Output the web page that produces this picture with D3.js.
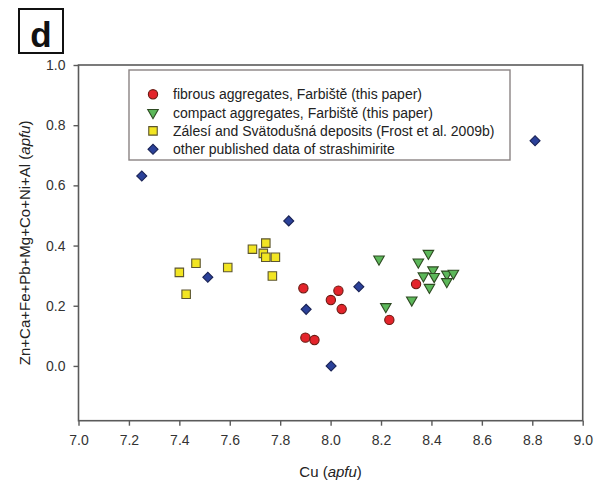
<!DOCTYPE html>
<html><head><meta charset="utf-8">
<script src="https://cdn.jsdelivr.net/npm/d3@7"></script>
<style>body{margin:0;background:#fff}svg{display:block}</style>
</head><body>
<script>
// ---- data ----
const fibrousCu = [7.892, 7.900, 7.936, 8.001, 8.031, 8.044, 8.233, 8.339];
const fibrousSum = [0.258, 0.094, 0.086, 0.219, 0.250, 0.189, 0.153, 0.272];
const compactCu = [8.192, 8.388, 8.348, 8.406, 8.368, 8.411, 8.461, 8.487, 8.461, 8.392, 8.322, 8.219];
const compactSum = [0.355, 0.374, 0.345, 0.319, 0.299, 0.297, 0.305, 0.308, 0.280, 0.261, 0.219, 0.197];
const zalesiCu = [7.400, 7.427, 7.466, 7.592, 7.690, 7.743, 7.733, 7.743, 7.781, 7.769];
const zalesiSum = [0.311, 0.238, 0.341, 0.327, 0.388, 0.408, 0.374, 0.361, 0.361, 0.299];
const otherCu = [7.251, 7.513, 7.834, 7.903, 8.112, 8.811, 8.002];
const otherSum = [0.631, 0.295, 0.482, 0.188, 0.263, 0.748, 0.0];
const xTicks = [7.0, 7.2, 7.4, 7.6, 7.8, 8.0, 8.2, 8.4, 8.6, 8.8, 9.0];
const yTicks = [0.0, 0.2, 0.4, 0.6, 0.8, 1.0];
const legendLabels = [
  "fibrous aggregates, Farbiště (this paper)",
  "compact aggregates, Farbiště (this paper)",
  "Zálesí and Svätodušná deposits (Frost et al. 2009b)",
  "other published data of strashimirite"
];

const W = 603, H = 482;
const L = 78.5, R = 582.7, T = 65, B = 420.7;
const FONT = "'Liberation Sans', Arial, Helvetica, sans-serif";
const svg = d3.select("body").append("svg").attr("width", W).attr("height", H)
  .style("font-family", FONT);

const x = d3.scaleLinear().domain([7.0, 9.0]).range([L, R]);
const y = d3.scaleLinear().domain([-0.182, 1.0]).range([B, T]);

// frame
svg.append("rect").attr("x", L).attr("y", T).attr("width", R - L).attr("height", B - T)
  .attr("fill", "none").attr("stroke", "#5a5a5a").attr("stroke-width", 1.6);

// axes
const xAxis = d3.axisBottom(x).tickValues(xTicks).tickFormat(d3.format(".1f")).tickSize(5).tickPadding(9);
const gx = svg.append("g").attr("transform", `translate(0,${B})`).call(xAxis);
const yAxis = d3.axisLeft(y).tickValues(yTicks).tickFormat(d3.format(".1f")).tickSize(5).tickPadding(8);
const gy = svg.append("g").attr("transform", `translate(${L},0)`).call(yAxis);
[gx, gy].forEach(g => {
  g.select(".domain").remove();
  g.selectAll(".tick line").attr("stroke", "#5a5a5a").attr("stroke-width", 1.4);
  g.selectAll(".tick text").attr("fill", "#333").style("font-size", "14px").style("font-family", FONT);
});

// axis titles
const xt = svg.append("text").attr("x", (L + R) / 2).attr("y", 477).attr("text-anchor", "middle")
  .attr("fill", "#222").style("font-size", "15px");
xt.append("tspan").text("Cu (");
xt.append("tspan").attr("font-style", "italic").text("apfu");
xt.append("tspan").text(")");

const yt = svg.append("text").attr("transform", `translate(30,${(T + B) / 2}) rotate(-90)`)
  .attr("text-anchor", "middle").attr("fill", "#222").style("font-size", "15px");
yt.append("tspan").text("Zn+Ca+Fe+Pb+Mg+Co+Ni+Al (");
yt.append("tspan").attr("font-style", "italic").text("apfu");
yt.append("tspan").text(")");

// symbols
const styles = [
  {type: d3.symbolCircle, size: 68, fill: "#e3242b", stroke: "#6a1a12"},
  {type: d3.symbolTriangle, size: 48, fill: "#5cb85a", stroke: "#2e4a22", rot: 180},
  {type: d3.symbolSquare, size: 72, fill: "#f2e522", stroke: "#5c5530"},
  {type: d3.symbolSquare, size: 50, fill: "#2b4199", stroke: "#1a2355", rot: 45}
];
const series = [
  [fibrousCu, fibrousSum],
  [compactCu, compactSum],
  [zalesiCu, zalesiSum],
  [otherCu, otherSum]
];
function drawSym(g, s, px, py) {
  g.append("path").attr("d", d3.symbol().type(s.type).size(s.size)())
    .attr("transform", `translate(${px},${py})` + (s.rot ? ` rotate(${s.rot})` : ""))
    .attr("fill", s.fill).attr("stroke", s.stroke).attr("stroke-width", 1.1);
}
const pts = svg.append("g");
series.forEach((ser, i) => {
  ser[0].forEach((cu, j) => drawSym(pts, styles[i], x(cu), y(ser[1][j])));
});

// legend
const lg = svg.append("g");
lg.append("rect").attr("x", 129).attr("y", 70).attr("width", 381).attr("height", 90)
  .attr("fill", "#fff").attr("stroke", "#8a8383").attr("stroke-width", 1.4);
legendLabels.forEach((lab, i) => {
  const ry = 94.3 + i * 18.3;
  drawSym(lg, styles[i], 153, ry);
  lg.append("text").attr("x", 173).attr("y", ry).attr("dy", "0.36em")
    .attr("fill", "#222").style("font-size", "14px").text(lab);
});

// panel label
svg.append("rect").attr("x", 19).attr("y", 9).attr("width", 44).attr("height", 44)
  .attr("fill", "#fff").attr("stroke", "#111").attr("stroke-width", 2);
svg.append("text").attr("x", 41).attr("y", 47).attr("text-anchor", "middle")
  .attr("font-weight", "bold").style("font-size", "35px").attr("fill", "#111").text("d");
</script>
</body></html>
